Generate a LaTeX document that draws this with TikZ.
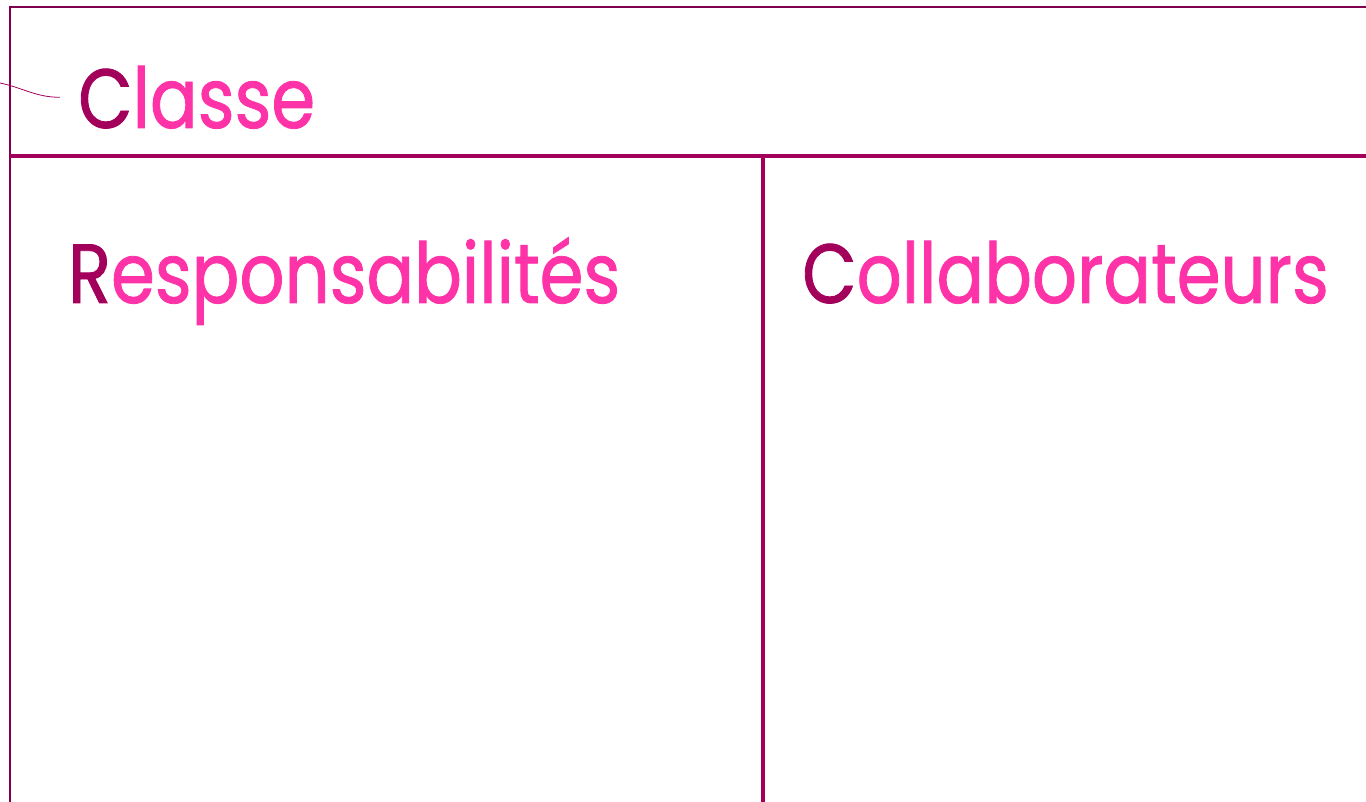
\documentclass[tikz,border=0pt]{standalone}
\usepackage{fontspec}
\setmainfont{Poppins}[FakeStretch=0.84, FakeBold=1]
\usetikzlibrary{positioning}
\definecolor{cardline}{HTML}{800050}
\definecolor{splitline}{HTML}{A3005C}
\definecolor{titlepink}{HTML}{FF33A8}
\newcommand{\crchead}[2]{\textcolor{splitline}{#1}\textcolor{titlepink}{#2}}

\begin{document}
\begin{tikzpicture}[x=1pt, y=-1pt,
  heading/.style={anchor=base west, inner sep=0pt, font=\fontsize{84}{90}\selectfont},
  frame/.style={cardline, line width=2.5pt},
  split/.style={splitline, line width=4pt}]
  \useasboundingbox (0,0) rectangle (1366,802);
  % card outline and the two separators
  \draw[frame] (10,820) |- (1380,7);
  \draw[split] (10,156) -- (1380,156);
  \draw[split] (763,156) -- (763,820);
  % headings
  \node[heading] (classe) at (78,128) {\crchead{C}{lasse}};
  \node[heading] (resp) at (68,303) {\crchead{R}{esponsabilités}};
  \node[heading] (collab) at (802,303) {\crchead{C}{ollaborateurs}};
  \coordinate (tail) at (0,83);
  \draw[splitline, line width=0.8pt] (tail) to[out=-12, in=180] ([xshift=-18pt]classe.west);
\end{tikzpicture}
\end{document}
